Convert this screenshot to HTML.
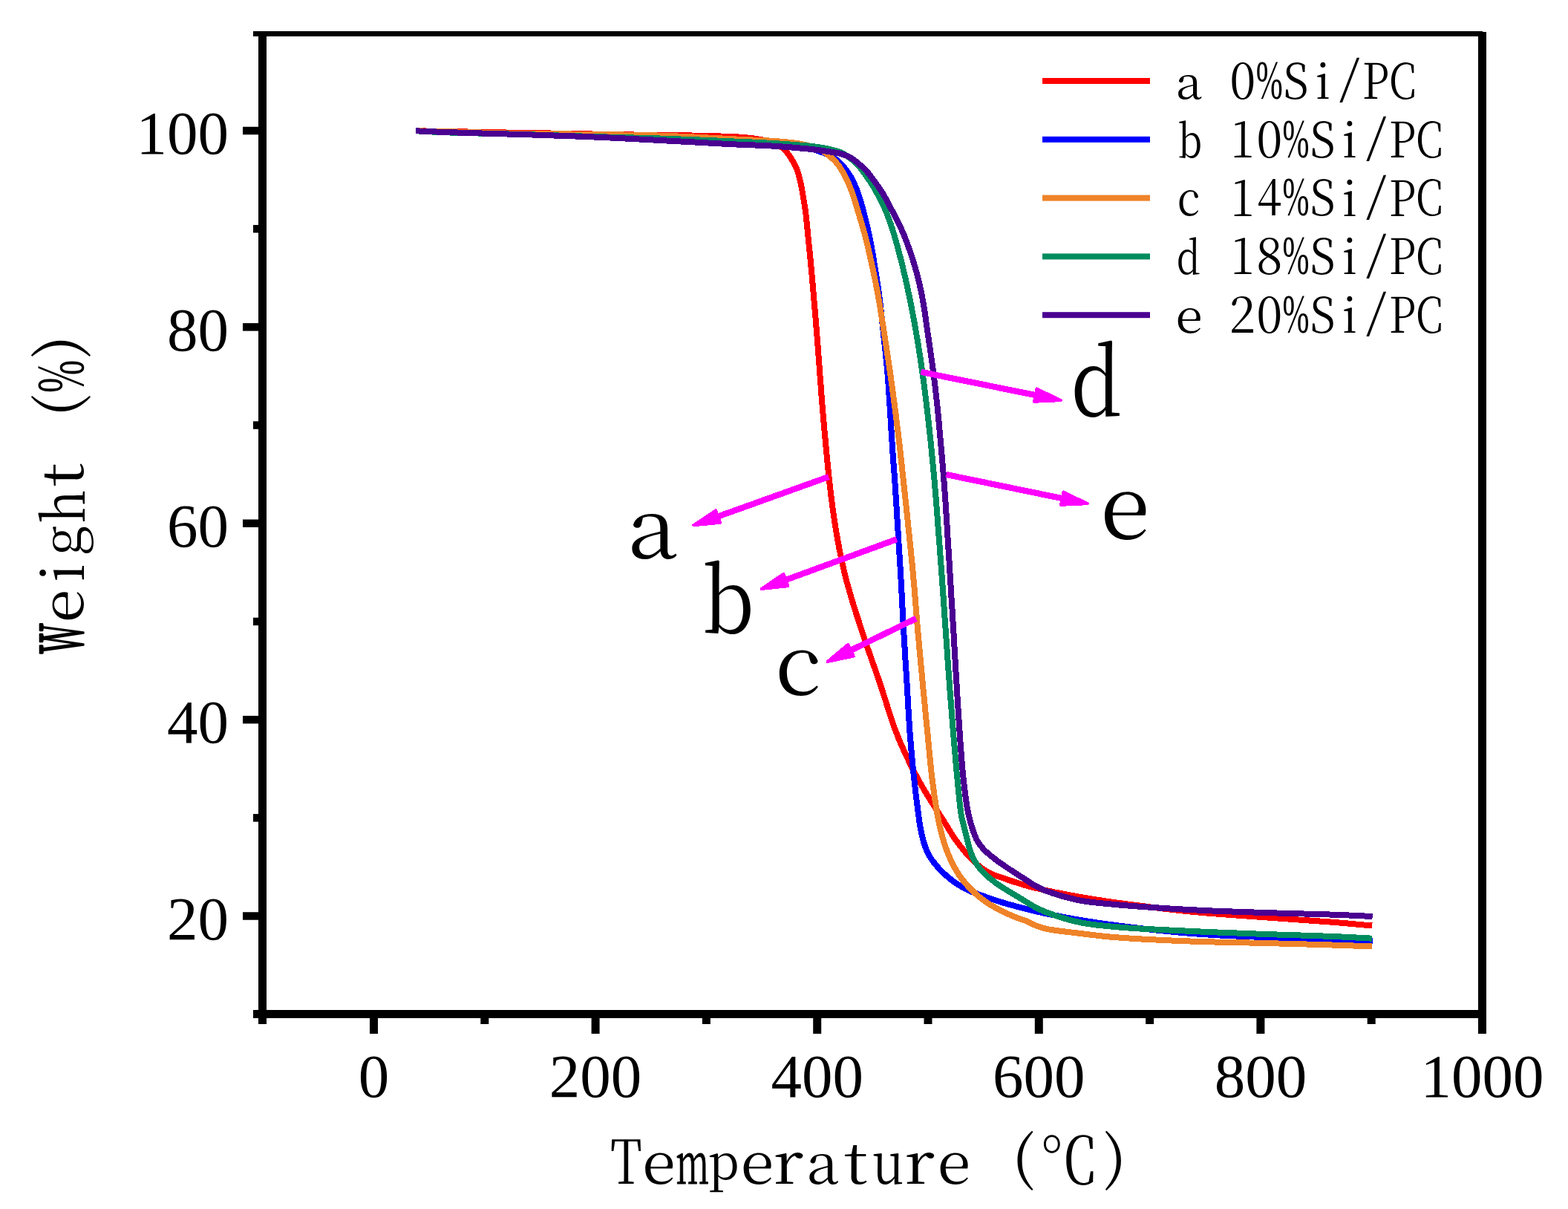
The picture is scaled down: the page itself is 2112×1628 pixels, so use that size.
<!DOCTYPE html><html><head><meta charset="utf-8"><title>TGA curves</title><style>html,body{margin:0;padding:0;background:#fff}svg{display:block}</style></head><body>
<svg width="2112" height="1628" viewBox="0 0 2112 1628" font-family="'Liberation Serif', 'Noto Serif CJK SC', serif">
<rect width="2112" height="1628" fill="#fff"/>
<path d="M560.0,176.3C562.3,176.3 569.3,176.5 574.0,176.5C578.7,176.6 583.3,176.7 588.0,176.8C592.7,176.9 597.3,177.0 602.0,177.0C606.7,177.1 611.3,177.2 616.0,177.3C620.7,177.4 625.3,177.5 630.0,177.5C634.7,177.6 639.3,177.7 644.0,177.8C648.7,177.9 653.3,178.0 658.0,178.0C662.7,178.1 667.3,178.2 672.0,178.3C676.6,178.4 681.3,178.5 686.0,178.6C690.6,178.6 695.3,178.7 700.0,178.8C704.6,178.9 709.3,179.0 714.0,179.0C718.6,179.1 723.3,179.2 728.0,179.3C732.6,179.4 737.3,179.4 742.0,179.5C746.6,179.6 751.3,179.7 756.0,179.7C760.6,179.8 765.3,179.9 770.0,180.0C774.6,180.1 779.3,180.1 784.0,180.2C788.6,180.3 793.3,180.4 798.0,180.5C802.6,180.6 807.3,180.6 812.0,180.7C816.6,180.8 821.3,181.0 826.0,181.1C830.6,181.2 835.3,181.3 840.0,181.3C844.6,181.4 849.3,181.5 854.0,181.5C858.6,181.6 863.3,181.6 868.0,181.6C872.6,181.6 877.3,181.6 882.0,181.7C886.6,181.7 891.3,181.7 896.0,181.8C900.6,181.8 905.3,181.9 910.0,182.0C914.6,182.1 919.3,182.2 923.9,182.3C928.6,182.4 933.3,182.5 937.9,182.7C942.6,182.8 947.3,182.9 951.9,183.0C956.6,183.2 961.3,183.3 965.9,183.4C970.6,183.5 975.3,183.6 979.9,183.7C984.6,183.9 989.3,184.1 993.9,184.4C998.6,184.7 1003.2,185.1 1007.9,185.6C1012.5,186.1 1017.1,186.7 1021.7,187.5C1026.3,188.3 1031.0,189.1 1035.4,190.3C1039.9,191.6 1044.6,192.8 1048.5,195.1C1052.4,197.4 1055.9,200.7 1059.0,204.1C1062.1,207.5 1064.6,211.6 1067.0,215.6C1069.4,219.5 1071.7,223.7 1073.4,228.0C1075.1,232.3 1076.1,236.9 1077.3,241.4C1078.4,245.9 1079.3,250.5 1080.2,255.1C1081.1,259.6 1081.7,264.3 1082.5,268.9C1083.3,273.5 1084.1,278.1 1084.7,282.7C1085.4,287.3 1085.8,291.9 1086.3,296.6C1086.8,301.2 1087.3,305.9 1087.7,310.5C1088.2,315.2 1088.6,319.8 1089.0,324.4C1089.5,329.1 1090.0,333.7 1090.5,338.4C1090.9,343.0 1091.4,347.7 1091.9,352.3C1092.3,357.0 1092.7,361.6 1093.2,366.2C1093.6,370.9 1094.0,375.5 1094.4,380.2C1094.8,384.8 1095.2,389.5 1095.6,394.1C1096.0,398.8 1096.4,403.4 1096.8,408.1C1097.2,412.7 1097.6,417.4 1098.0,422.0C1098.4,426.7 1098.8,431.3 1099.2,436.0C1099.5,440.6 1099.9,445.3 1100.3,449.9C1100.7,454.6 1101.0,459.2 1101.4,463.9C1101.7,468.6 1102.1,473.2 1102.4,477.9C1102.8,482.5 1103.1,487.2 1103.5,491.8C1103.8,496.5 1104.2,501.1 1104.5,505.8C1104.9,510.4 1105.2,515.1 1105.6,519.7C1105.9,524.4 1106.3,529.1 1106.6,533.7C1107.0,538.4 1107.3,543.0 1107.7,547.7C1108.1,552.3 1108.5,557.0 1108.9,561.6C1109.3,566.3 1109.7,570.9 1110.1,575.6C1110.5,580.2 1111.0,584.9 1111.4,589.5C1111.8,594.1 1112.3,598.8 1112.7,603.4C1113.2,608.1 1113.6,612.7 1114.0,617.4C1114.5,622.0 1114.9,626.7 1115.4,631.3C1115.9,636.0 1116.3,640.6 1116.8,645.2C1117.3,649.9 1117.9,654.5 1118.4,659.1C1119.0,663.8 1119.5,668.4 1120.1,673.0C1120.7,677.7 1121.3,682.3 1121.9,686.9C1122.6,691.5 1123.2,696.2 1123.9,700.8C1124.6,705.4 1125.3,710.0 1126.1,714.6C1126.9,719.2 1127.7,723.8 1128.5,728.4C1129.4,733.0 1130.2,737.6 1131.1,742.1C1132.1,746.7 1133.0,751.3 1134.0,755.9C1135.0,760.4 1136.0,765.0 1137.1,769.5C1138.2,774.0 1139.3,778.6 1140.5,783.1C1141.7,787.6 1143.0,792.1 1144.3,796.6C1145.5,801.1 1146.9,805.5 1148.2,810.0C1149.6,814.5 1151.0,818.9 1152.4,823.4C1153.8,827.8 1155.2,832.2 1156.7,836.7C1158.1,841.1 1159.5,845.6 1161.0,850.0C1162.5,854.4 1163.9,858.9 1165.4,863.3C1166.9,867.7 1168.5,872.1 1170.0,876.5C1171.5,880.9 1173.1,885.3 1174.6,889.7C1176.2,894.1 1177.7,898.5 1179.3,902.9C1180.8,907.3 1182.4,911.7 1183.9,916.2C1185.4,920.6 1186.9,925.0 1188.3,929.4C1189.8,933.9 1191.1,938.3 1192.6,942.8C1194.0,947.2 1195.3,951.7 1196.8,956.1C1198.2,960.6 1199.6,965.0 1201.1,969.4C1202.6,973.9 1204.1,978.3 1205.8,982.6C1207.4,987.0 1209.1,991.3 1210.9,995.7C1212.7,1000.0 1214.6,1004.2 1216.5,1008.5C1218.4,1012.8 1220.3,1017.0 1222.4,1021.2C1224.4,1025.4 1226.4,1029.6 1228.5,1033.8C1230.6,1037.9 1232.8,1042.1 1235.0,1046.2C1237.2,1050.3 1239.4,1054.4 1241.8,1058.4C1244.1,1062.5 1246.5,1066.5 1248.9,1070.5C1251.4,1074.5 1253.9,1078.4 1256.3,1082.3C1258.8,1086.3 1261.4,1090.2 1263.9,1094.2C1266.4,1098.1 1269.0,1102.0 1271.4,1105.9C1273.9,1109.9 1276.3,1113.9 1278.8,1117.9C1281.2,1121.8 1283.7,1125.8 1286.3,1129.6C1289.0,1133.5 1291.8,1137.2 1294.7,1140.8C1297.6,1144.5 1300.5,1148.1 1303.7,1151.6C1306.8,1155.1 1310.0,1158.4 1313.5,1161.6C1316.9,1164.7 1320.5,1167.7 1324.3,1170.4C1328.2,1173.0 1332.2,1175.4 1336.4,1177.4C1340.6,1179.3 1345.2,1180.4 1349.6,1181.9C1354.0,1183.4 1358.4,1185.0 1362.9,1186.5C1367.3,1187.9 1371.7,1189.4 1376.2,1190.7C1380.7,1192.1 1385.2,1193.3 1389.7,1194.5C1394.2,1195.6 1398.8,1196.7 1403.3,1197.7C1407.8,1198.8 1412.4,1199.7 1417.0,1200.7C1421.6,1201.6 1426.1,1202.5 1430.7,1203.4C1435.3,1204.3 1439.9,1205.2 1444.5,1206.0C1449.1,1206.8 1453.7,1207.7 1458.3,1208.4C1462.9,1209.2 1467.5,1210.0 1472.1,1210.7C1476.7,1211.5 1481.3,1212.2 1485.9,1212.9C1490.5,1213.6 1495.1,1214.2 1499.8,1214.9C1504.4,1215.5 1509.0,1216.2 1513.6,1216.8C1518.3,1217.4 1522.9,1218.0 1527.5,1218.6C1532.1,1219.2 1536.8,1219.8 1541.4,1220.4C1546.0,1221.0 1550.7,1221.6 1555.3,1222.2C1559.9,1222.7 1564.6,1223.3 1569.2,1223.8C1573.8,1224.4 1578.5,1224.9 1583.1,1225.4C1587.7,1225.9 1592.4,1226.4 1597.0,1226.9C1601.7,1227.4 1606.3,1227.8 1611.0,1228.2C1615.6,1228.7 1620.3,1229.1 1624.9,1229.5C1629.6,1229.9 1634.2,1230.2 1638.9,1230.6C1643.5,1230.9 1648.2,1231.3 1652.8,1231.6C1657.5,1232.0 1662.1,1232.3 1666.8,1232.6C1671.4,1232.9 1676.1,1233.3 1680.7,1233.6C1685.4,1233.9 1690.1,1234.3 1694.7,1234.6C1699.4,1234.9 1704.0,1235.3 1708.7,1235.6C1713.3,1236.0 1718.0,1236.3 1722.6,1236.6C1727.3,1237.0 1731.9,1237.3 1736.6,1237.6C1741.3,1237.9 1745.9,1238.3 1750.6,1238.6C1755.2,1238.9 1759.9,1239.2 1764.5,1239.6C1769.2,1239.9 1773.8,1240.2 1778.5,1240.6C1783.2,1240.9 1787.8,1241.2 1792.5,1241.6C1797.1,1242.0 1801.8,1242.3 1806.4,1242.7C1811.1,1243.1 1815.7,1243.5 1820.4,1244.0C1825.0,1244.4 1829.7,1244.8 1834.3,1245.3C1838.9,1245.7 1845.9,1246.3 1848.2,1246.5" fill="none" stroke="#ff0000" stroke-width="8" stroke-linejoin="round" stroke-linecap="butt" shape-rendering="crispEdges"/>
<path d="M560.0,176.3C562.3,176.4 569.3,176.7 574.0,176.9C578.6,177.1 583.3,177.4 588.0,177.6C592.6,177.7 597.3,177.9 602.0,178.1C606.6,178.2 611.3,178.3 616.0,178.5C620.6,178.6 625.3,178.7 630.0,178.8C634.6,178.9 639.3,179.0 643.9,179.1C648.6,179.2 653.3,179.3 657.9,179.4C662.6,179.5 667.3,179.6 671.9,179.7C676.6,179.7 681.3,179.8 685.9,179.9C690.6,180.0 695.3,180.1 699.9,180.2C704.6,180.3 709.3,180.4 713.9,180.5C718.6,180.5 723.3,180.6 727.9,180.7C732.6,180.8 737.3,180.8 741.9,180.9C746.6,181.0 751.3,181.1 755.9,181.1C760.6,181.2 765.3,181.3 769.9,181.4C774.6,181.5 779.3,181.6 783.9,181.6C788.6,181.7 793.3,181.8 797.9,182.0C802.6,182.1 807.3,182.2 811.9,182.3C816.6,182.4 821.2,182.5 825.9,182.7C830.6,182.8 835.2,182.9 839.9,183.0C844.6,183.2 849.2,183.3 853.9,183.4C858.6,183.6 863.2,183.7 867.9,183.9C872.6,184.0 877.2,184.2 881.9,184.4C886.6,184.5 891.2,184.7 895.9,184.8C900.5,185.0 905.2,185.2 909.9,185.4C914.5,185.5 919.2,185.7 923.9,185.9C928.5,186.1 933.2,186.3 937.8,186.4C942.5,186.6 947.2,186.8 951.8,187.0C956.5,187.2 961.2,187.4 965.8,187.6C970.5,187.8 975.1,188.1 979.8,188.3C984.5,188.6 989.1,188.8 993.8,189.1C998.4,189.4 1003.1,189.7 1007.8,190.1C1012.4,190.4 1017.1,190.8 1021.7,191.2C1026.4,191.6 1031.0,192.1 1035.6,192.5C1040.3,193.0 1044.9,193.5 1049.6,194.0C1054.2,194.4 1058.9,194.8 1063.5,195.4C1068.1,195.9 1072.8,196.4 1077.4,197.1C1082.0,197.9 1086.6,198.7 1091.1,199.9C1095.6,201.1 1100.0,202.7 1104.4,204.3C1108.8,205.8 1113.4,206.9 1117.5,209.0C1121.5,211.1 1125.3,213.7 1128.8,216.7C1132.3,219.7 1135.4,223.3 1138.3,227.0C1141.2,230.6 1143.8,234.5 1146.1,238.5C1148.5,242.6 1150.4,246.8 1152.3,251.1C1154.1,255.4 1155.7,259.8 1157.1,264.2C1158.6,268.6 1159.9,273.1 1161.2,277.6C1162.4,282.1 1163.5,286.6 1164.7,291.2C1165.8,295.7 1167.0,300.2 1168.1,304.8C1169.1,309.3 1170.2,313.9 1171.1,318.4C1172.1,323.0 1173.0,327.6 1173.8,332.2C1174.7,336.7 1175.4,341.3 1176.2,345.9C1177.0,350.6 1177.7,355.2 1178.5,359.8C1179.2,364.4 1180.0,369.0 1180.7,373.6C1181.4,378.2 1182.1,382.8 1182.8,387.4C1183.4,392.1 1184.1,396.7 1184.7,401.3C1185.2,405.9 1185.8,410.6 1186.3,415.2C1186.8,419.8 1187.3,424.5 1187.8,429.1C1188.3,433.8 1188.8,438.4 1189.3,443.1C1189.8,447.7 1190.3,452.3 1190.8,457.0C1191.3,461.6 1191.8,466.2 1192.3,470.9C1192.8,475.5 1193.3,480.2 1193.7,484.8C1194.2,489.5 1194.7,494.1 1195.1,498.7C1195.5,503.4 1195.9,508.0 1196.2,512.7C1196.6,517.4 1196.9,522.0 1197.2,526.7C1197.5,531.3 1197.8,536.0 1198.1,540.6C1198.4,545.3 1198.7,550.0 1199.0,554.6C1199.3,559.3 1199.6,563.9 1199.9,568.6C1200.1,573.2 1200.4,577.9 1200.7,582.6C1201.0,587.2 1201.3,591.9 1201.6,596.5C1201.9,601.2 1202.2,605.8 1202.5,610.5C1202.9,615.2 1203.2,619.8 1203.5,624.5C1203.9,629.1 1204.2,633.8 1204.6,638.4C1204.9,643.1 1205.3,647.7 1205.6,652.4C1205.9,657.0 1206.2,661.7 1206.5,666.4C1206.8,671.0 1207.1,675.7 1207.4,680.3C1207.7,685.0 1208.0,689.6 1208.2,694.3C1208.5,699.0 1208.8,703.6 1209.1,708.3C1209.4,712.9 1209.7,717.6 1209.9,722.2C1210.2,726.9 1210.5,731.6 1210.8,736.2C1211.1,740.9 1211.4,745.5 1211.7,750.2C1212.0,754.9 1212.3,759.5 1212.6,764.2C1212.8,768.8 1213.1,773.5 1213.4,778.1C1213.7,782.8 1213.9,787.5 1214.2,792.1C1214.4,796.8 1214.7,801.4 1214.9,806.1C1215.1,810.8 1215.4,815.4 1215.6,820.1C1215.8,824.7 1216.1,829.4 1216.3,834.1C1216.6,838.7 1216.8,843.4 1217.1,848.0C1217.4,852.7 1217.6,857.4 1217.9,862.0C1218.2,866.7 1218.5,871.3 1218.8,876.0C1219.0,880.7 1219.3,885.3 1219.6,890.0C1219.9,894.6 1220.2,899.3 1220.5,903.9C1220.8,908.6 1221.1,913.3 1221.4,917.9C1221.7,922.6 1221.9,927.2 1222.2,931.9C1222.5,936.5 1222.7,941.2 1223.0,945.9C1223.3,950.5 1223.5,955.2 1223.8,959.8C1224.1,964.5 1224.4,969.2 1224.7,973.8C1225.0,978.5 1225.3,983.1 1225.6,987.8C1226.0,992.4 1226.4,997.1 1226.8,1001.7C1227.1,1006.4 1227.6,1011.0 1228.0,1015.7C1228.4,1020.3 1228.8,1025.0 1229.3,1029.6C1229.8,1034.3 1230.2,1038.9 1230.7,1043.6C1231.2,1048.2 1231.7,1052.8 1232.2,1057.5C1232.8,1062.1 1233.3,1066.7 1233.8,1071.4C1234.4,1076.0 1235.0,1080.6 1235.6,1085.3C1236.2,1089.9 1236.7,1094.5 1237.4,1099.1C1238.0,1103.8 1238.6,1108.4 1239.4,1113.0C1240.2,1117.6 1241.1,1122.2 1242.3,1126.7C1243.4,1131.2 1244.6,1135.8 1246.2,1140.1C1247.8,1144.5 1249.6,1148.8 1251.9,1152.8C1254.3,1156.8 1257.1,1160.6 1260.1,1164.2C1263.0,1167.8 1266.3,1171.2 1269.6,1174.4C1272.9,1177.7 1276.4,1180.8 1280.1,1183.7C1283.7,1186.6 1287.5,1189.3 1291.5,1191.8C1295.4,1194.3 1299.5,1196.6 1303.7,1198.6C1307.9,1200.6 1312.3,1202.1 1316.7,1203.8C1321.1,1205.5 1325.5,1207.0 1329.9,1208.6C1334.3,1210.1 1338.7,1211.6 1343.1,1213.1C1347.6,1214.5 1352.0,1215.8 1356.5,1217.1C1361.0,1218.4 1365.5,1219.6 1370.0,1220.8C1374.5,1222.0 1379.0,1223.2 1383.6,1224.3C1388.1,1225.5 1392.6,1226.6 1397.2,1227.6C1401.7,1228.7 1406.3,1229.7 1410.8,1230.7C1415.4,1231.6 1420.0,1232.5 1424.6,1233.4C1429.2,1234.3 1433.7,1235.1 1438.3,1235.9C1442.9,1236.8 1447.5,1237.6 1452.1,1238.4C1456.7,1239.1 1461.3,1239.9 1465.9,1240.7C1470.5,1241.4 1475.2,1242.1 1479.8,1242.8C1484.4,1243.5 1489.0,1244.1 1493.6,1244.7C1498.3,1245.4 1502.9,1246.0 1507.5,1246.6C1512.1,1247.2 1516.8,1247.7 1521.4,1248.3C1526.0,1248.9 1530.7,1249.4 1535.3,1250.0C1539.9,1250.5 1544.6,1251.1 1549.2,1251.6C1553.9,1252.1 1558.5,1252.6 1563.1,1253.1C1567.8,1253.6 1572.4,1254.1 1577.1,1254.5C1581.7,1255.0 1586.3,1255.4 1591.0,1255.8C1595.6,1256.2 1600.3,1256.6 1604.9,1257.0C1609.6,1257.4 1614.3,1257.7 1618.9,1258.0C1623.6,1258.3 1628.2,1258.6 1632.9,1258.9C1637.5,1259.2 1642.2,1259.4 1646.9,1259.7C1651.5,1259.9 1656.2,1260.1 1660.8,1260.3C1665.5,1260.6 1670.2,1260.8 1674.8,1261.0C1679.5,1261.2 1684.2,1261.4 1688.8,1261.5C1693.5,1261.7 1698.1,1261.9 1702.8,1262.1C1707.5,1262.3 1712.1,1262.4 1716.8,1262.6C1721.5,1262.7 1726.1,1262.8 1730.8,1263.0C1735.5,1263.1 1740.1,1263.2 1744.8,1263.3C1749.5,1263.4 1754.1,1263.5 1758.8,1263.6C1763.5,1263.7 1768.1,1263.8 1772.8,1263.9C1777.5,1264.0 1782.1,1264.1 1786.8,1264.3C1791.4,1264.4 1796.1,1264.6 1800.8,1264.7C1805.4,1264.9 1810.1,1265.1 1814.8,1265.4C1819.4,1265.6 1823.1,1265.8 1828.7,1266.2C1834.4,1266.5 1845.4,1267.1 1848.7,1267.3" fill="none" stroke="#0000ff" stroke-width="8" stroke-linejoin="round" stroke-linecap="butt" shape-rendering="crispEdges"/>
<path d="M560.0,176.3C562.3,176.3 569.3,176.5 574.0,176.6C578.7,176.7 583.3,176.7 588.0,176.8C592.7,176.9 597.3,177.0 602.0,177.2C606.7,177.3 611.3,177.4 616.0,177.5C620.7,177.7 625.3,177.8 630.0,178.0C634.6,178.1 639.3,178.3 644.0,178.4C648.6,178.5 653.3,178.7 658.0,178.8C662.6,179.0 667.3,179.1 672.0,179.2C676.6,179.4 681.3,179.5 686.0,179.6C690.6,179.7 695.3,179.8 700.0,179.9C704.6,180.0 709.3,180.1 714.0,180.1C718.6,180.2 723.3,180.2 727.9,180.3C732.6,180.3 737.3,180.3 741.9,180.3C746.6,180.4 751.3,180.4 755.9,180.4C760.6,180.4 765.3,180.5 769.9,180.5C774.6,180.5 779.3,180.6 783.9,180.6C788.6,180.7 793.3,180.7 797.9,180.8C802.6,180.8 807.3,180.9 811.9,181.0C816.6,181.1 821.3,181.1 825.9,181.2C830.6,181.3 835.3,181.4 839.9,181.5C844.6,181.5 849.3,181.6 853.9,181.7C858.6,181.8 863.3,181.9 867.9,182.1C872.6,182.2 877.3,182.3 881.9,182.4C886.6,182.6 891.3,182.7 895.9,182.9C900.6,183.0 905.3,183.2 909.9,183.4C914.6,183.6 919.2,183.8 923.9,184.0C928.6,184.2 933.2,184.4 937.9,184.7C942.5,184.9 947.2,185.1 951.9,185.4C956.5,185.6 961.2,185.9 965.8,186.1C970.5,186.4 975.2,186.6 979.8,186.9C984.5,187.1 989.1,187.4 993.8,187.6C998.5,187.8 1003.1,188.0 1007.8,188.3C1012.5,188.5 1017.1,188.6 1021.8,188.8C1026.4,189.1 1031.1,189.3 1035.8,189.5C1040.4,189.8 1045.1,190.1 1049.7,190.5C1054.4,190.9 1059.0,191.2 1063.7,191.8C1068.3,192.3 1072.9,192.9 1077.5,193.7C1082.1,194.5 1086.7,195.4 1091.2,196.7C1095.7,198.0 1100.1,199.5 1104.3,201.6C1108.4,203.7 1112.3,206.3 1116.0,209.2C1119.6,212.0 1123.2,215.1 1126.3,218.6C1129.3,222.1 1131.9,226.0 1134.3,230.0C1136.7,234.0 1138.8,238.2 1140.8,242.4C1142.8,246.6 1144.6,250.9 1146.3,255.3C1147.9,259.6 1149.3,264.1 1150.8,268.5C1152.2,273.0 1153.5,277.4 1154.9,281.9C1156.2,286.4 1157.6,290.8 1158.9,295.3C1160.2,299.8 1161.6,304.3 1162.8,308.8C1164.1,313.2 1165.3,317.7 1166.5,322.3C1167.6,326.8 1168.7,331.3 1169.8,335.9C1170.8,340.4 1171.8,345.0 1172.8,349.5C1173.8,354.1 1174.8,358.7 1175.8,363.2C1176.8,367.8 1177.7,372.3 1178.7,376.9C1179.6,381.5 1180.5,386.1 1181.4,390.7C1182.2,395.2 1183.1,399.8 1183.9,404.4C1184.7,409.0 1185.4,413.6 1186.2,418.2C1186.9,422.8 1187.6,427.5 1188.3,432.1C1189.1,436.7 1189.8,441.3 1190.5,445.9C1191.2,450.5 1191.9,455.1 1192.6,459.7C1193.3,464.4 1194.0,469.0 1194.8,473.6C1195.5,478.2 1196.2,482.8 1196.9,487.4C1197.5,492.0 1198.2,496.7 1198.9,501.3C1199.5,505.9 1200.2,510.5 1200.8,515.1C1201.5,519.8 1202.1,524.4 1202.7,529.0C1203.3,533.6 1204.0,538.3 1204.6,542.9C1205.2,547.5 1205.8,552.1 1206.4,556.8C1207.0,561.4 1207.6,566.0 1208.1,570.7C1208.7,575.3 1209.3,579.9 1209.9,584.5C1210.4,589.2 1211.0,593.8 1211.5,598.5C1212.1,603.1 1212.6,607.7 1213.1,612.4C1213.6,617.0 1214.1,621.6 1214.6,626.3C1215.1,630.9 1215.6,635.6 1216.1,640.2C1216.6,644.8 1217.1,649.5 1217.6,654.1C1218.1,658.8 1218.6,663.4 1219.1,668.0C1219.6,672.7 1220.1,677.3 1220.6,682.0C1221.1,686.6 1221.6,691.2 1222.1,695.9C1222.6,700.5 1223.1,705.2 1223.5,709.8C1224.0,714.4 1224.5,719.1 1225.0,723.7C1225.5,728.4 1225.9,733.0 1226.4,737.7C1226.9,742.3 1227.3,746.9 1227.8,751.6C1228.3,756.2 1228.7,760.9 1229.2,765.5C1229.6,770.2 1230.0,774.8 1230.4,779.5C1230.9,784.1 1231.3,788.8 1231.7,793.4C1232.1,798.1 1232.4,802.7 1232.8,807.4C1233.2,812.0 1233.6,816.7 1233.9,821.3C1234.3,826.0 1234.7,830.6 1235.1,835.3C1235.4,839.9 1235.8,844.6 1236.2,849.2C1236.6,853.9 1237.1,858.5 1237.5,863.2C1237.9,867.8 1238.3,872.5 1238.8,877.1C1239.2,881.8 1239.6,886.4 1240.1,891.0C1240.5,895.7 1240.9,900.3 1241.4,905.0C1241.8,909.6 1242.3,914.3 1242.7,918.9C1243.1,923.6 1243.6,928.2 1244.0,932.9C1244.5,937.5 1244.9,942.1 1245.4,946.8C1245.8,951.4 1246.3,956.1 1246.7,960.7C1247.2,965.4 1247.6,970.0 1248.1,974.7C1248.5,979.3 1249.0,984.0 1249.5,988.6C1249.9,993.2 1250.4,997.9 1250.8,1002.5C1251.3,1007.2 1251.7,1011.8 1252.1,1016.5C1252.6,1021.1 1253.0,1025.8 1253.5,1030.4C1254.0,1035.0 1254.5,1039.7 1255.0,1044.3C1255.6,1049.0 1256.2,1053.6 1256.8,1058.2C1257.4,1062.8 1258.0,1067.5 1258.7,1072.1C1259.4,1076.7 1260.1,1081.3 1260.8,1085.9C1261.5,1090.5 1262.2,1095.1 1263.1,1099.7C1263.9,1104.3 1264.9,1108.9 1266.0,1113.4C1267.0,1118.0 1268.1,1122.5 1269.4,1127.0C1270.6,1131.5 1272.0,1136.0 1273.5,1140.4C1275.0,1144.8 1276.7,1149.1 1278.6,1153.4C1280.4,1157.7 1282.4,1162.0 1284.6,1166.1C1286.8,1170.2 1289.1,1174.2 1291.7,1178.1C1294.3,1181.9 1297.2,1185.7 1300.2,1189.2C1303.2,1192.8 1306.4,1196.1 1309.8,1199.4C1313.1,1202.7 1316.6,1205.8 1320.2,1208.7C1323.8,1211.6 1327.6,1214.4 1331.6,1216.9C1335.5,1219.4 1339.6,1221.6 1343.7,1223.8C1347.8,1226.0 1352.0,1228.1 1356.2,1230.1C1360.5,1232.0 1364.7,1233.9 1369.1,1235.6C1373.4,1237.3 1378.0,1238.4 1382.3,1240.1C1386.6,1241.9 1390.6,1244.5 1394.9,1246.2C1399.2,1248.0 1403.6,1249.4 1408.1,1250.5C1412.6,1251.6 1417.3,1252.3 1421.9,1252.9C1426.5,1253.6 1431.2,1254.1 1435.8,1254.7C1440.4,1255.2 1445.1,1255.7 1449.7,1256.3C1454.3,1256.8 1459.0,1257.4 1463.6,1258.0C1468.2,1258.6 1472.9,1259.2 1477.5,1259.7C1482.1,1260.3 1486.8,1260.8 1491.4,1261.2C1496.1,1261.7 1500.7,1262.1 1505.4,1262.4C1510.0,1262.8 1514.7,1263.1 1519.3,1263.4C1524.0,1263.7 1528.6,1264.0 1533.3,1264.3C1538.0,1264.5 1542.6,1264.8 1547.3,1265.0C1551.9,1265.3 1556.6,1265.5 1561.3,1265.7C1565.9,1266.0 1570.6,1266.2 1575.3,1266.4C1579.9,1266.6 1584.6,1266.8 1589.2,1267.0C1593.9,1267.2 1598.6,1267.3 1603.2,1267.5C1607.9,1267.7 1612.6,1267.9 1617.2,1268.0C1621.9,1268.1 1626.6,1268.3 1631.2,1268.4C1635.9,1268.5 1640.5,1268.6 1645.2,1268.7C1649.9,1268.8 1654.5,1268.9 1659.2,1269.0C1663.9,1269.1 1668.5,1269.2 1673.2,1269.3C1677.9,1269.4 1682.5,1269.5 1687.2,1269.6C1691.9,1269.7 1696.5,1269.8 1701.2,1269.9C1705.9,1270.1 1710.5,1270.2 1715.2,1270.3C1719.9,1270.4 1724.5,1270.6 1729.2,1270.7C1733.9,1270.8 1738.5,1270.9 1743.2,1271.1C1747.9,1271.2 1752.5,1271.3 1757.2,1271.4C1761.8,1271.6 1766.5,1271.7 1771.2,1271.8C1775.8,1272.0 1780.5,1272.1 1785.2,1272.2C1789.8,1272.4 1794.5,1272.5 1799.2,1272.7C1803.8,1272.8 1808.5,1273.0 1813.2,1273.2C1817.8,1273.3 1822.5,1273.5 1827.1,1273.7C1831.8,1273.8 1837.6,1274.1 1841.1,1274.2C1844.6,1274.3 1847.0,1274.4 1848.1,1274.5" fill="none" stroke="#ef8329" stroke-width="8" stroke-linejoin="round" stroke-linecap="butt" shape-rendering="crispEdges"/>
<path d="M560.0,176.3C562.3,176.4 569.3,176.8 574.0,177.0C578.6,177.3 583.3,177.6 588.0,177.8C592.6,178.0 597.3,178.2 601.9,178.4C606.6,178.5 611.3,178.7 615.9,178.8C620.6,179.0 625.3,179.1 629.9,179.2C634.6,179.3 639.3,179.4 643.9,179.5C648.6,179.6 653.3,179.8 657.9,179.9C662.6,180.0 667.3,180.1 671.9,180.2C676.6,180.3 681.3,180.4 685.9,180.5C690.6,180.6 695.3,180.8 699.9,180.9C704.6,181.0 709.2,181.2 713.9,181.3C718.6,181.4 723.2,181.6 727.9,181.7C732.6,181.9 737.2,182.0 741.9,182.2C746.6,182.3 751.2,182.5 755.9,182.6C760.6,182.8 765.2,182.9 769.9,183.1C774.5,183.2 779.2,183.4 783.9,183.5C788.5,183.7 793.2,183.8 797.9,183.9C802.5,184.1 807.2,184.2 811.9,184.3C816.5,184.5 821.2,184.6 825.9,184.7C830.5,184.9 835.2,185.0 839.9,185.1C844.5,185.2 849.2,185.4 853.8,185.5C858.5,185.6 863.2,185.8 867.8,185.9C872.5,186.0 877.2,186.2 881.8,186.3C886.5,186.4 891.2,186.6 895.8,186.8C900.5,186.9 905.2,187.1 909.8,187.3C914.5,187.4 919.1,187.6 923.8,187.8C928.5,188.0 933.1,188.2 937.8,188.3C942.5,188.5 947.1,188.7 951.8,188.9C956.4,189.1 961.1,189.3 965.8,189.5C970.4,189.7 975.1,189.9 979.8,190.1C984.4,190.3 989.1,190.5 993.7,190.7C998.4,190.9 1003.1,191.1 1007.7,191.3C1012.4,191.5 1017.1,191.7 1021.7,192.0C1026.4,192.2 1031.0,192.4 1035.7,192.7C1040.4,192.9 1045.0,193.2 1049.7,193.5C1054.3,193.8 1059.0,194.2 1063.6,194.5C1068.3,194.9 1072.9,195.2 1077.6,195.6C1082.2,196.0 1086.9,196.3 1091.5,196.8C1096.2,197.3 1100.8,197.9 1105.4,198.6C1110.0,199.4 1114.6,200.2 1119.1,201.3C1123.7,202.5 1128.3,203.5 1132.5,205.3C1136.8,207.2 1140.7,209.7 1144.4,212.4C1148.2,215.1 1151.8,218.2 1155.0,221.6C1158.2,224.9 1160.8,228.8 1163.6,232.5C1166.4,236.3 1169.1,240.1 1171.7,244.0C1174.2,247.9 1176.7,251.9 1179.0,255.9C1181.3,260.0 1183.4,264.1 1185.5,268.3C1187.7,272.4 1189.8,276.6 1191.7,280.9C1193.5,285.1 1195.3,289.5 1196.9,293.9C1198.5,298.2 1200.1,302.6 1201.5,307.1C1203.0,311.5 1204.3,316.0 1205.6,320.5C1206.9,324.9 1208.1,329.4 1209.4,333.9C1210.6,338.4 1211.7,343.0 1212.9,347.5C1214.0,352.0 1215.2,356.5 1216.3,361.1C1217.4,365.6 1218.4,370.2 1219.5,374.7C1220.5,379.2 1221.5,383.8 1222.5,388.4C1223.5,392.9 1224.5,397.5 1225.4,402.1C1226.4,406.6 1227.3,411.2 1228.1,415.8C1229.0,420.4 1229.9,425.0 1230.8,429.6C1231.6,434.1 1232.4,438.7 1233.2,443.3C1234.0,447.9 1234.8,452.5 1235.6,457.1C1236.4,461.7 1237.1,466.3 1237.8,470.9C1238.6,475.6 1239.3,480.2 1240.0,484.8C1240.7,489.4 1241.3,494.0 1242.0,498.6C1242.7,503.3 1243.3,507.9 1243.9,512.5C1244.5,517.1 1245.1,521.8 1245.7,526.4C1246.3,531.0 1246.9,535.6 1247.4,540.3C1248.0,544.9 1248.5,549.5 1249.1,554.2C1249.6,558.8 1250.2,563.5 1250.7,568.1C1251.2,572.7 1251.7,577.4 1252.2,582.0C1252.7,586.6 1253.2,591.3 1253.7,595.9C1254.2,600.6 1254.6,605.2 1255.1,609.9C1255.5,614.5 1256.0,619.1 1256.4,623.8C1256.9,628.4 1257.3,633.1 1257.7,637.7C1258.2,642.4 1258.6,647.0 1259.0,651.7C1259.4,656.3 1259.8,661.0 1260.2,665.6C1260.6,670.3 1260.9,674.9 1261.3,679.6C1261.7,684.2 1262.0,688.9 1262.4,693.5C1262.7,698.2 1263.1,702.8 1263.4,707.5C1263.8,712.2 1264.2,716.8 1264.5,721.5C1264.9,726.1 1265.2,730.8 1265.6,735.4C1265.9,740.1 1266.3,744.7 1266.6,749.4C1267.0,754.0 1267.3,758.7 1267.7,763.3C1268.0,768.0 1268.4,772.6 1268.7,777.3C1269.0,782.0 1269.4,786.6 1269.7,791.3C1270.0,795.9 1270.4,800.6 1270.7,805.2C1271.0,809.9 1271.3,814.5 1271.7,819.2C1272.0,823.9 1272.3,828.5 1272.6,833.2C1272.9,837.8 1273.3,842.5 1273.6,847.1C1273.9,851.8 1274.3,856.4 1274.6,861.1C1274.9,865.8 1275.2,870.4 1275.6,875.1C1275.9,879.7 1276.2,884.4 1276.5,889.0C1276.9,893.7 1277.2,898.3 1277.5,903.0C1277.9,907.6 1278.2,912.3 1278.6,917.0C1278.9,921.6 1279.3,926.3 1279.6,930.9C1280.0,935.6 1280.3,940.2 1280.7,944.9C1281.1,949.5 1281.4,954.2 1281.8,958.8C1282.1,963.5 1282.5,968.1 1282.9,972.8C1283.3,977.4 1283.6,982.1 1284.0,986.7C1284.4,991.4 1284.8,996.0 1285.2,1000.7C1285.6,1005.3 1286.0,1010.0 1286.4,1014.6C1286.8,1019.3 1287.2,1023.9 1287.6,1028.6C1288.0,1033.2 1288.4,1037.9 1288.9,1042.5C1289.3,1047.2 1289.8,1051.8 1290.2,1056.5C1290.7,1061.1 1291.1,1065.8 1291.6,1070.4C1292.0,1075.0 1292.5,1079.7 1293.0,1084.3C1293.6,1089.0 1294.0,1093.6 1294.9,1098.2C1295.7,1102.8 1297.0,1107.3 1298.1,1111.8C1299.2,1116.3 1300.4,1120.9 1301.5,1125.4C1302.6,1129.9 1303.6,1134.5 1304.9,1139.0C1306.2,1143.4 1307.4,1148.0 1309.3,1152.2C1311.1,1156.5 1313.4,1160.7 1316.0,1164.5C1318.6,1168.3 1321.7,1171.9 1324.9,1175.2C1328.2,1178.5 1331.8,1181.5 1335.4,1184.4C1339.1,1187.3 1342.8,1190.1 1346.7,1192.7C1350.6,1195.3 1354.6,1197.7 1358.6,1200.1C1362.6,1202.5 1366.6,1204.9 1370.6,1207.3C1374.5,1209.8 1378.5,1212.2 1382.5,1214.6C1386.5,1217.0 1390.4,1219.6 1394.6,1221.7C1398.7,1223.9 1403.0,1225.8 1407.3,1227.6C1411.6,1229.3 1416.0,1230.9 1420.4,1232.4C1424.8,1234.0 1429.3,1235.4 1433.7,1236.7C1438.2,1238.1 1442.7,1239.3 1447.2,1240.4C1451.8,1241.5 1456.3,1242.5 1460.9,1243.3C1465.5,1244.1 1470.1,1244.7 1474.8,1245.3C1479.4,1245.9 1484.1,1246.3 1488.7,1246.8C1493.3,1247.3 1498.0,1247.7 1502.6,1248.1C1507.3,1248.5 1511.9,1248.9 1516.6,1249.3C1521.2,1249.6 1525.9,1249.9 1530.6,1250.2C1535.2,1250.5 1539.9,1250.8 1544.5,1251.0C1549.2,1251.3 1553.9,1251.5 1558.5,1251.7C1563.2,1252.0 1567.8,1252.2 1572.5,1252.4C1577.2,1252.6 1581.8,1252.8 1586.5,1253.1C1591.1,1253.3 1595.8,1253.5 1600.5,1253.7C1605.1,1253.9 1609.8,1254.2 1614.4,1254.4C1619.1,1254.6 1623.8,1254.8 1628.4,1255.0C1633.1,1255.2 1637.8,1255.4 1642.4,1255.6C1647.1,1255.8 1651.7,1256.0 1656.4,1256.2C1661.1,1256.3 1665.7,1256.5 1670.4,1256.7C1675.1,1256.9 1679.7,1257.0 1684.4,1257.2C1689.1,1257.4 1693.7,1257.6 1698.4,1257.7C1703.0,1257.9 1707.7,1258.1 1712.4,1258.2C1717.0,1258.4 1721.7,1258.6 1726.4,1258.7C1731.0,1258.9 1735.7,1259.0 1740.4,1259.2C1745.0,1259.3 1749.7,1259.4 1754.4,1259.6C1759.0,1259.7 1763.7,1259.9 1768.3,1260.0C1773.0,1260.2 1777.7,1260.4 1782.3,1260.5C1787.0,1260.7 1791.7,1260.9 1796.3,1261.1C1801.0,1261.2 1805.7,1261.4 1810.3,1261.7C1815.0,1261.9 1819.6,1262.1 1824.3,1262.4C1829.0,1262.6 1834.3,1262.9 1838.3,1263.1C1842.3,1263.4 1846.6,1263.6 1848.3,1263.7" fill="none" stroke="#008c5f" stroke-width="8" stroke-linejoin="round" stroke-linecap="butt" shape-rendering="crispEdges"/>
<path d="M560.0,176.3C562.3,176.4 569.3,176.7 574.0,176.9C578.6,177.1 583.3,177.3 588.0,177.5C592.6,177.7 597.3,177.9 602.0,178.1C606.6,178.2 611.3,178.4 616.0,178.5C620.6,178.7 625.3,178.8 629.9,179.0C634.6,179.1 639.3,179.2 643.9,179.4C648.6,179.5 653.3,179.6 657.9,179.7C662.6,179.9 667.3,180.0 671.9,180.1C676.6,180.3 681.3,180.4 685.9,180.6C690.6,180.7 695.3,180.9 699.9,181.0C704.6,181.1 709.2,181.3 713.9,181.4C718.6,181.6 723.2,181.7 727.9,181.9C732.6,182.0 737.2,182.2 741.9,182.4C746.6,182.5 751.2,182.7 755.9,182.8C760.6,183.0 765.2,183.1 769.9,183.3C774.5,183.5 779.2,183.7 783.9,183.8C788.5,184.0 793.2,184.2 797.9,184.4C802.5,184.6 807.2,184.8 811.8,185.0C816.5,185.2 821.2,185.5 825.8,185.7C830.5,185.9 835.2,186.2 839.8,186.4C844.5,186.6 849.1,186.9 853.8,187.1C858.5,187.4 863.1,187.6 867.8,187.9C872.4,188.1 877.1,188.4 881.8,188.6C886.4,188.9 891.1,189.1 895.7,189.4C900.4,189.6 905.1,189.9 909.7,190.1C914.4,190.4 919.0,190.6 923.7,190.9C928.4,191.1 933.0,191.4 937.7,191.6C942.3,191.9 947.0,192.1 951.7,192.4C956.3,192.6 961.0,192.9 965.6,193.2C970.3,193.4 975.0,193.7 979.6,193.9C984.3,194.1 988.9,194.4 993.6,194.6C998.3,194.8 1002.9,195.0 1007.6,195.2C1012.2,195.4 1016.9,195.5 1021.6,195.6C1026.2,195.8 1030.9,196.1 1035.6,196.3C1040.2,196.6 1044.9,196.9 1049.5,197.2C1054.2,197.6 1058.8,197.9 1063.5,198.3C1068.1,198.6 1072.8,199.0 1077.4,199.5C1082.1,199.9 1086.7,200.3 1091.4,200.8C1096.0,201.3 1100.6,201.9 1105.3,202.5C1109.9,203.1 1114.5,203.9 1119.1,204.6C1123.7,205.4 1128.4,205.9 1132.9,207.1C1137.3,208.4 1141.7,210.1 1145.7,212.3C1149.8,214.6 1153.4,217.7 1156.9,220.7C1160.5,223.7 1163.9,226.9 1167.1,230.3C1170.2,233.7 1172.9,237.6 1175.7,241.3C1178.5,245.0 1181.3,248.8 1183.9,252.6C1186.6,256.5 1189.1,260.4 1191.4,264.4C1193.8,268.5 1195.8,272.7 1198.0,276.8C1200.2,280.9 1202.4,285.0 1204.6,289.2C1206.7,293.3 1208.9,297.5 1210.9,301.7C1212.9,305.9 1214.9,310.1 1216.7,314.4C1218.6,318.7 1220.2,323.0 1221.8,327.4C1223.5,331.8 1225.0,336.2 1226.5,340.6C1228.0,345.0 1229.4,349.5 1230.8,353.9C1232.1,358.4 1233.4,362.9 1234.7,367.4C1235.9,371.9 1237.0,376.4 1238.1,381.0C1239.2,385.5 1240.2,390.1 1241.1,394.6C1242.0,399.2 1242.9,403.8 1243.7,408.4C1244.5,413.0 1245.2,417.6 1245.9,422.2C1246.6,426.8 1247.2,431.5 1247.8,436.1C1248.5,440.7 1249.1,445.3 1249.8,449.9C1250.5,454.6 1251.2,459.2 1251.9,463.8C1252.5,468.4 1253.2,473.0 1253.9,477.6C1254.6,482.3 1255.2,486.9 1255.9,491.5C1256.5,496.1 1257.1,500.7 1257.7,505.4C1258.3,510.0 1258.8,514.6 1259.4,519.3C1259.9,523.9 1260.5,528.5 1261.0,533.2C1261.5,537.8 1262.0,542.5 1262.5,547.1C1263.0,551.7 1263.4,556.4 1263.9,561.0C1264.3,565.7 1264.8,570.3 1265.2,575.0C1265.6,579.6 1266.0,584.3 1266.4,588.9C1266.8,593.6 1267.2,598.2 1267.7,602.9C1268.1,607.5 1268.5,612.2 1268.9,616.8C1269.3,621.5 1269.7,626.1 1270.1,630.8C1270.5,635.4 1270.8,640.1 1271.2,644.7C1271.6,649.4 1271.9,654.0 1272.3,658.7C1272.6,663.3 1273.0,668.0 1273.3,672.6C1273.6,677.3 1273.9,681.9 1274.2,686.6C1274.5,691.3 1274.8,695.9 1275.1,700.6C1275.4,705.2 1275.7,709.9 1276.0,714.5C1276.2,719.2 1276.5,723.9 1276.8,728.5C1277.1,733.2 1277.4,737.8 1277.7,742.5C1278.0,747.2 1278.3,751.8 1278.6,756.5C1278.8,761.1 1279.1,765.8 1279.4,770.4C1279.7,775.1 1280.0,779.8 1280.3,784.4C1280.6,789.1 1280.8,793.7 1281.1,798.4C1281.4,803.0 1281.7,807.7 1282.0,812.4C1282.3,817.0 1282.6,821.7 1282.9,826.3C1283.1,831.0 1283.4,835.6 1283.7,840.3C1284.0,845.0 1284.3,849.6 1284.6,854.3C1284.8,858.9 1285.1,863.6 1285.4,868.3C1285.6,872.9 1285.9,877.6 1286.2,882.2C1286.4,886.9 1286.7,891.6 1287.0,896.2C1287.3,900.9 1287.5,905.5 1287.8,910.2C1288.1,914.8 1288.4,919.5 1288.7,924.2C1288.9,928.8 1289.2,933.5 1289.5,938.1C1289.8,942.8 1290.1,947.5 1290.4,952.1C1290.7,956.8 1291.0,961.4 1291.3,966.1C1291.6,970.7 1291.9,975.4 1292.2,980.1C1292.5,984.7 1292.9,989.4 1293.2,994.0C1293.5,998.7 1293.8,1003.3 1294.2,1008.0C1294.5,1012.6 1294.9,1017.3 1295.2,1021.9C1295.6,1026.6 1296.0,1031.2 1296.4,1035.9C1296.8,1040.5 1297.3,1045.2 1297.8,1049.8C1298.3,1054.5 1298.9,1059.1 1299.4,1063.7C1300.0,1068.4 1300.6,1073.0 1301.2,1077.6C1301.9,1082.2 1302.5,1086.9 1303.4,1091.4C1304.3,1096.0 1305.3,1100.6 1306.6,1105.0C1307.8,1109.5 1309.1,1114.0 1310.6,1118.4C1312.2,1122.8 1313.7,1127.3 1315.9,1131.4C1318.1,1135.4 1320.9,1139.2 1324.0,1142.7C1327.0,1146.2 1330.7,1149.1 1334.3,1152.1C1337.9,1155.1 1341.6,1157.9 1345.4,1160.7C1349.1,1163.4 1353.0,1166.0 1356.9,1168.6C1360.8,1171.2 1364.7,1173.7 1368.6,1176.3C1372.5,1178.8 1376.5,1181.3 1380.4,1183.8C1384.3,1186.4 1388.1,1189.1 1392.1,1191.5C1396.2,1193.8 1400.3,1196.0 1404.5,1197.9C1408.8,1199.7 1413.3,1201.2 1417.7,1202.7C1422.1,1204.2 1426.6,1205.5 1431.1,1206.8C1435.5,1208.1 1440.1,1209.3 1444.6,1210.3C1449.1,1211.4 1453.7,1212.4 1458.3,1213.2C1462.9,1214.0 1467.5,1214.6 1472.2,1215.1C1476.8,1215.7 1481.4,1216.1 1486.1,1216.5C1490.7,1217.0 1495.4,1217.4 1500.0,1217.8C1504.7,1218.2 1509.3,1218.7 1514.0,1219.1C1518.6,1219.5 1523.3,1219.8 1527.9,1220.2C1532.6,1220.6 1537.2,1220.9 1541.9,1221.2C1546.5,1221.6 1551.2,1221.9 1555.9,1222.2C1560.5,1222.5 1565.2,1222.8 1569.8,1223.1C1574.5,1223.4 1579.1,1223.7 1583.8,1224.0C1588.5,1224.2 1593.1,1224.5 1597.8,1224.8C1602.4,1225.0 1607.1,1225.3 1611.8,1225.5C1616.4,1225.7 1621.1,1226.0 1625.7,1226.2C1630.4,1226.4 1635.1,1226.6 1639.7,1226.8C1644.4,1226.9 1649.1,1227.1 1653.7,1227.3C1658.4,1227.5 1663.0,1227.6 1667.7,1227.8C1672.4,1228.0 1677.0,1228.1 1681.7,1228.3C1686.4,1228.4 1691.0,1228.6 1695.7,1228.8C1700.4,1228.9 1705.0,1229.1 1709.7,1229.2C1714.3,1229.4 1719.0,1229.5 1723.7,1229.6C1728.3,1229.8 1733.0,1229.9 1737.7,1230.0C1742.3,1230.1 1747.0,1230.3 1751.7,1230.4C1756.3,1230.5 1761.0,1230.6 1765.7,1230.8C1770.3,1230.9 1775.0,1231.0 1779.7,1231.1C1784.3,1231.3 1789.0,1231.4 1793.6,1231.6C1798.3,1231.7 1803.0,1231.9 1807.6,1232.1C1812.3,1232.3 1817.0,1232.5 1821.6,1232.7C1826.3,1232.9 1831.1,1233.2 1835.6,1233.4C1840.1,1233.6 1846.4,1233.9 1848.6,1234.0" fill="none" stroke="#4a0091" stroke-width="8" stroke-linejoin="round" stroke-linecap="butt" shape-rendering="crispEdges"/>
<rect x="341" y="42" width="1656" height="7" fill="#000"/>
<rect x="1991" y="43" width="11" height="1349" fill="#000"/>
<rect x="341" y="1360" width="1661" height="11" fill="#000"/>
<rect x="348" y="42" width="11" height="1337" fill="#000"/>
<rect x="498.0" y="1371" width="11.0" height="21" fill="#000"/>
<rect x="796.6" y="1371" width="11.0" height="21" fill="#000"/>
<rect x="1095.2" y="1371" width="11.0" height="21" fill="#000"/>
<rect x="1393.8" y="1371" width="11.0" height="21" fill="#000"/>
<rect x="1692.4" y="1371" width="11.0" height="21" fill="#000"/>
<rect x="1991.0" y="1371" width="11.0" height="21" fill="#000"/>
<rect x="647.3" y="1371" width="11.0" height="8" fill="#000"/>
<rect x="945.9" y="1371" width="11.0" height="8" fill="#000"/>
<rect x="1244.5" y="1371" width="11.0" height="8" fill="#000"/>
<rect x="1543.1" y="1371" width="11.0" height="8" fill="#000"/>
<rect x="1841.7" y="1371" width="11.0" height="8" fill="#000"/>
<rect x="327" y="1228.25" width="21" height="10.5" fill="#000"/>
<rect x="327" y="963.88" width="21" height="10.5" fill="#000"/>
<rect x="327" y="699.5" width="21" height="10.5" fill="#000"/>
<rect x="327" y="435.13" width="21" height="10.5" fill="#000"/>
<rect x="327" y="170.75" width="21" height="10.5" fill="#000"/>
<rect x="341" y="1096.07" width="7" height="10.5" fill="#000"/>
<rect x="341" y="831.69" width="7" height="10.5" fill="#000"/>
<rect x="341" y="567.31" width="7" height="10.5" fill="#000"/>
<rect x="341" y="302.94" width="7" height="10.5" fill="#000"/>
<g font-size="83" fill="#000">
<text x="308" y="1264.8" text-anchor="end">20</text>
<text x="308" y="1000.4" text-anchor="end">40</text>
<text x="308" y="736.1" text-anchor="end">60</text>
<text x="308" y="471.7" text-anchor="end">80</text>
<text x="308" y="207.3" text-anchor="end">100</text>
<text x="503.5" y="1477.4" text-anchor="middle">0</text>
<text x="802.1" y="1477.4" text-anchor="middle">200</text>
<text x="1100.7" y="1477.4" text-anchor="middle">400</text>
<text x="1399.3" y="1477.4" text-anchor="middle">600</text>
<text x="1697.9" y="1477.4" text-anchor="middle">800</text>
<text x="1996.5" y="1477.4" text-anchor="middle">1000</text>
</g>
<text transform="matrix(0.6394,0,0,0.8198,822.35,1594.00)" font-size="100" font-family="'Noto Serif CJK SC', serif">T</text>
<text transform="matrix(0.8156,0,0,0.7747,865.24,1593.72)" font-size="100" font-family="'Noto Serif CJK SC', serif">e</text>
<text transform="matrix(0.4618,0,0,0.7685,910.13,1593.60)" font-size="100" font-family="'Noto Serif CJK SC', serif" stroke="#000" stroke-width="0.8" vector-effect="non-scaling-stroke" stroke-linejoin="round">m</text>
<text transform="matrix(0.6647,0,0,0.6623,953.60,1587.74)" font-size="100" font-family="'Noto Serif CJK SC', serif">p</text>
<text transform="matrix(0.8156,0,0,0.7747,997.78,1593.72)" font-size="100" font-family="'Noto Serif CJK SC', serif">e</text>
<text transform="matrix(0.8776,0,0,0.7836,1041.45,1594.00)" font-size="100" font-family="'Noto Serif CJK SC', serif">r</text>
<text transform="matrix(0.7854,0,0,0.7490,1086.33,1593.76)" font-size="100" font-family="'Noto Serif CJK SC', serif">a</text>
<text transform="matrix(0.8709,0,0,0.7776,1136.64,1593.72)" font-size="100" font-family="'Noto Serif CJK SC', serif">t</text>
<text transform="matrix(0.6656,0,0,0.7726,1174.44,1593.72)" font-size="100" font-family="'Noto Serif CJK SC', serif">u</text>
<text transform="matrix(0.8776,0,0,0.7836,1218.17,1594.00)" font-size="100" font-family="'Noto Serif CJK SC', serif">r</text>
<text transform="matrix(0.8156,0,0,0.7747,1262.86,1593.72)" font-size="100" font-family="'Noto Serif CJK SC', serif">e</text>
<text transform="matrix(0.8682,0,0,0.7752,1362.60,1586.17)" font-size="100" font-family="'Noto Serif CJK SC', serif">(</text>
<text transform="matrix(0.8011,0,0,0.8467,1400.11,1593.61)" font-size="100" font-family="'Noto Serif CJK SC', serif">℃</text>
<text transform="matrix(0.8682,0,0,0.7752,1486.21,1586.17)" font-size="100" font-family="'Noto Serif CJK SC', serif">)</text>
<g transform="rotate(-90)">
<text transform="matrix(0.3888,0,0,0.7757,-880.58,110.82)" font-size="100" font-family="'Noto Serif CJK SC', serif" stroke="#000" stroke-width="2.6" vector-effect="non-scaling-stroke" stroke-linejoin="round">W</text>
<text transform="matrix(0.8153,0,0,0.7743,-838.28,112.42)" font-size="100" font-family="'Noto Serif CJK SC', serif">e</text>
<text transform="matrix(0.7434,0,0,0.7825,-783.43,112.70)" font-size="100" font-family="'Noto Serif CJK SC', serif">i</text>
<text transform="matrix(0.7190,0,0,0.6987,-748.08,108.22)" font-size="100" font-family="'Noto Serif CJK SC', serif">g</text>
<text transform="matrix(0.6886,0,0,0.7790,-705.12,113.58)" font-size="100" font-family="'Noto Serif CJK SC', serif">h</text>
<text transform="matrix(0.8705,0,0,0.7772,-655.32,112.42)" font-size="100" font-family="'Noto Serif CJK SC', serif">t</text>
<text transform="matrix(0.8678,0,0,0.7748,-561.94,104.87)" font-size="100" font-family="'Noto Serif CJK SC', serif">(</text>
<text transform="matrix(0.5311,0,0,0.8995,-528.91,112.46)" font-size="100">%</text>
<text transform="matrix(0.8678,0,0,0.7748,-482.55,104.87)" font-size="100" font-family="'Noto Serif CJK SC', serif">)</text>
</g>
<rect x="1404" y="105.0" width="145" height="8" fill="#ff0000"/>
<text transform="matrix(0.6391,0,0,0.6095,1583.78,132.80)" font-size="100" font-family="'Noto Serif CJK SC', serif">a</text>
<text transform="matrix(0.6391,0,0,0.6773,1656.20,132.70)" font-size="100" font-family="'Noto Serif CJK SC', serif">0</text>
<text transform="matrix(0.4323,0,0,0.7323,1691.67,132.80)" font-size="100">%</text>
<text transform="matrix(0.6030,0,0,0.6575,1728.49,132.73)" font-size="100" font-family="'Noto Serif CJK SC', serif">S</text>
<text transform="matrix(0.6052,0,0,0.6370,1772.07,133.00)" font-size="100" font-family="'Noto Serif CJK SC', serif">i</text>
<text transform="matrix(0.7958,0,0,0.6367,1803.73,127.18)" font-size="100" font-family="'Noto Serif CJK SC', serif">/</text>
<text transform="matrix(0.5661,0,0,0.6671,1834.74,133.00)" font-size="100" font-family="'Noto Serif CJK SC', serif">P</text>
<text transform="matrix(0.5285,0,0,0.6575,1871.11,132.73)" font-size="100" font-family="'Noto Serif CJK SC', serif">C</text>
<rect x="1404" y="183.8" width="145" height="8" fill="#0000ff"/>
<text transform="matrix(0.5164,0,0,0.6225,1586.15,211.59)" font-size="100" font-family="'Noto Serif CJK SC', serif">b</text>
<text transform="matrix(0.5788,0,0,0.6812,1657.71,211.80)" font-size="100" font-family="'Noto Serif CJK SC', serif">1</text>
<text transform="matrix(0.6391,0,0,0.6773,1692.15,211.50)" font-size="100" font-family="'Noto Serif CJK SC', serif">0</text>
<text transform="matrix(0.4323,0,0,0.7323,1727.62,211.60)" font-size="100">%</text>
<text transform="matrix(0.6030,0,0,0.6575,1764.44,211.53)" font-size="100" font-family="'Noto Serif CJK SC', serif">S</text>
<text transform="matrix(0.6052,0,0,0.6370,1808.02,211.80)" font-size="100" font-family="'Noto Serif CJK SC', serif">i</text>
<text transform="matrix(0.7958,0,0,0.6367,1839.68,205.98)" font-size="100" font-family="'Noto Serif CJK SC', serif">/</text>
<text transform="matrix(0.5661,0,0,0.6671,1870.69,211.80)" font-size="100" font-family="'Noto Serif CJK SC', serif">P</text>
<text transform="matrix(0.5285,0,0,0.6575,1907.06,211.53)" font-size="100" font-family="'Noto Serif CJK SC', serif">C</text>
<rect x="1404" y="262.6" width="145" height="8" fill="#ef8329"/>
<text transform="matrix(0.5712,0,0,0.6332,1585.68,290.37)" font-size="100" font-family="'Noto Serif CJK SC', serif">c</text>
<text transform="matrix(0.5788,0,0,0.6812,1657.71,290.60)" font-size="100" font-family="'Noto Serif CJK SC', serif">1</text>
<text transform="matrix(0.5968,0,0,0.6648,1693.20,289.44)" font-size="100" font-family="'Noto Serif CJK SC', serif">4</text>
<text transform="matrix(0.4323,0,0,0.7323,1727.62,290.40)" font-size="100">%</text>
<text transform="matrix(0.6030,0,0,0.6575,1764.44,290.33)" font-size="100" font-family="'Noto Serif CJK SC', serif">S</text>
<text transform="matrix(0.6052,0,0,0.6370,1808.02,290.60)" font-size="100" font-family="'Noto Serif CJK SC', serif">i</text>
<text transform="matrix(0.7958,0,0,0.6367,1839.68,284.78)" font-size="100" font-family="'Noto Serif CJK SC', serif">/</text>
<text transform="matrix(0.5661,0,0,0.6671,1870.69,290.60)" font-size="100" font-family="'Noto Serif CJK SC', serif">P</text>
<text transform="matrix(0.5285,0,0,0.6575,1907.06,290.33)" font-size="100" font-family="'Noto Serif CJK SC', serif">C</text>
<rect x="1404" y="341.4" width="145" height="8" fill="#008c5f"/>
<text transform="matrix(0.5117,0,0,0.6225,1584.70,369.19)" font-size="100" font-family="'Noto Serif CJK SC', serif">d</text>
<text transform="matrix(0.5788,0,0,0.6812,1657.71,369.40)" font-size="100" font-family="'Noto Serif CJK SC', serif">1</text>
<text transform="matrix(0.6463,0,0,0.6773,1691.95,369.10)" font-size="100" font-family="'Noto Serif CJK SC', serif">8</text>
<text transform="matrix(0.4323,0,0,0.7323,1727.62,369.20)" font-size="100">%</text>
<text transform="matrix(0.6030,0,0,0.6575,1764.44,369.13)" font-size="100" font-family="'Noto Serif CJK SC', serif">S</text>
<text transform="matrix(0.6052,0,0,0.6370,1808.02,369.40)" font-size="100" font-family="'Noto Serif CJK SC', serif">i</text>
<text transform="matrix(0.7958,0,0,0.6367,1839.68,363.58)" font-size="100" font-family="'Noto Serif CJK SC', serif">/</text>
<text transform="matrix(0.5661,0,0,0.6671,1870.69,369.40)" font-size="100" font-family="'Noto Serif CJK SC', serif">P</text>
<text transform="matrix(0.5285,0,0,0.6575,1907.06,369.13)" font-size="100" font-family="'Noto Serif CJK SC', serif">C</text>
<rect x="1404" y="420.2" width="145" height="8" fill="#4a0091"/>
<text transform="matrix(0.6637,0,0,0.6304,1583.62,447.97)" font-size="100" font-family="'Noto Serif CJK SC', serif">e</text>
<text transform="matrix(0.6427,0,0,0.6764,1655.86,448.20)" font-size="100" font-family="'Noto Serif CJK SC', serif">2</text>
<text transform="matrix(0.6391,0,0,0.6773,1692.15,447.90)" font-size="100" font-family="'Noto Serif CJK SC', serif">0</text>
<text transform="matrix(0.4323,0,0,0.7323,1727.62,448.00)" font-size="100">%</text>
<text transform="matrix(0.6030,0,0,0.6575,1764.44,447.93)" font-size="100" font-family="'Noto Serif CJK SC', serif">S</text>
<text transform="matrix(0.6052,0,0,0.6370,1808.02,448.20)" font-size="100" font-family="'Noto Serif CJK SC', serif">i</text>
<text transform="matrix(0.7958,0,0,0.6367,1839.68,442.38)" font-size="100" font-family="'Noto Serif CJK SC', serif">/</text>
<text transform="matrix(0.5661,0,0,0.6671,1870.69,448.20)" font-size="100" font-family="'Noto Serif CJK SC', serif">P</text>
<text transform="matrix(0.5285,0,0,0.6575,1907.06,447.93)" font-size="100" font-family="'Noto Serif CJK SC', serif">C</text>
<line x1="1116.3" y1="642" x2="965.2" y2="696.2" stroke="#ff00ff" stroke-width="8.2" shape-rendering="crispEdges"/>
<polygon points="934.2,707.3 964.2,687.2 970.1,703.8" fill="#ff00ff" stroke="#ff00ff" stroke-width="4" stroke-linejoin="round" shape-rendering="crispEdges"/>
<line x1="1207.9" y1="726.1" x2="1056.6" y2="781.6" stroke="#ff00ff" stroke-width="8.2" shape-rendering="crispEdges"/>
<polygon points="1025.6,793.0 1055.4,772.7 1061.5,789.2" fill="#ff00ff" stroke="#ff00ff" stroke-width="4" stroke-linejoin="round" shape-rendering="crispEdges"/>
<line x1="1234" y1="832.8" x2="1144.2" y2="876.6" stroke="#ff00ff" stroke-width="8.2" shape-rendering="crispEdges"/>
<polygon points="1114.5,891.0 1142.1,867.8 1149.8,883.6" fill="#ff00ff" stroke="#ff00ff" stroke-width="4" stroke-linejoin="round" shape-rendering="crispEdges"/>
<line x1="1240.3" y1="500.8" x2="1396.7" y2="532.5" stroke="#ff00ff" stroke-width="8.2" shape-rendering="crispEdges"/>
<polygon points="1429.0,539.1 1393.0,540.8 1396.5,523.5" fill="#ff00ff" stroke="#ff00ff" stroke-width="4" stroke-linejoin="round" shape-rendering="crispEdges"/>
<line x1="1274.5" y1="639" x2="1432.6" y2="671.5" stroke="#ff00ff" stroke-width="8.2" shape-rendering="crispEdges"/>
<polygon points="1464.9,678.2 1428.9,679.8 1432.4,662.5" fill="#ff00ff" stroke="#ff00ff" stroke-width="4" stroke-linejoin="round" shape-rendering="crispEdges"/>
<text transform="matrix(1.2182,0,0,1.1211,845.00,751.12)" font-size="100" fill="#000" font-family="'Noto Serif CJK SC', serif">a</text>
<text transform="matrix(1.1073,0,0,1.2134,945.57,851.68)" font-size="100" fill="#000" font-family="'Noto Serif CJK SC', serif">b</text>
<text transform="matrix(1.1600,0,0,1.1266,1044.29,934.71)" font-size="100" fill="#000" font-family="'Noto Serif CJK SC', serif">c</text>
<text transform="matrix(1.0847,0,0,1.2634,1442.45,560.10)" font-size="100" fill="#000" font-family="'Noto Serif CJK SC', serif">d</text>
<text transform="matrix(1.2176,0,0,1.1799,1482.22,724.83)" font-size="100" fill="#000" font-family="'Noto Serif CJK SC', serif">e</text>
</svg></body></html>
